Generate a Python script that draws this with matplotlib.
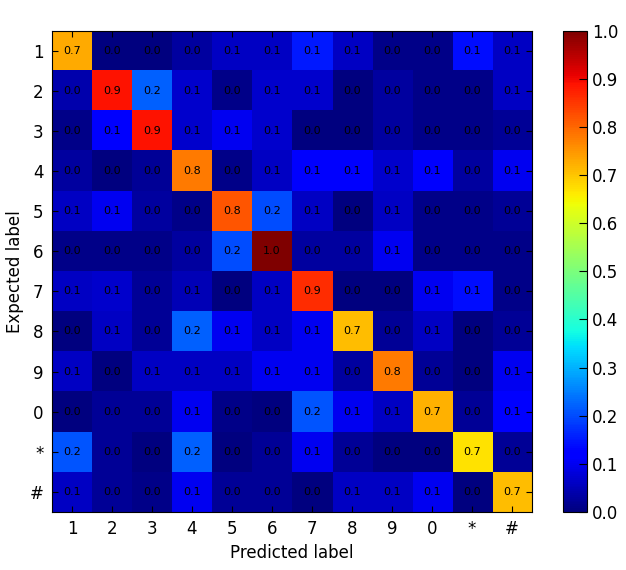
import numpy as np
import matplotlib
matplotlib.use("Agg")
import matplotlib.pyplot as plt

labels = ["1", "2", "3", "4", "5", "6", "7", "8", "9", "0", "*", "#"]

# rows = expected label, columns = predicted label
row_1 = [0.73, 0.00, 0.00, 0.03, 0.06, 0.06, 0.15, 0.06, 0.01, 0.01, 0.14, 0.06]
row_2 = [0.04, 0.89, 0.22, 0.07, 0.01, 0.07, 0.07, 0.00, 0.03, 0.01, 0.01, 0.06]
row_3 = [0.01, 0.11, 0.89, 0.07, 0.10, 0.07, 0.00, 0.00, 0.03, 0.01, 0.01, 0.02]
row_4 = [0.03, 0.00, 0.02, 0.78, 0.01, 0.06, 0.11, 0.11, 0.07, 0.11, 0.03, 0.10]
row_5 = [0.06, 0.10, 0.03, 0.01, 0.82, 0.20, 0.06, 0.00, 0.06, 0.01, 0.01, 0.02]
row_6 = [0.01, 0.01, 0.01, 0.03, 0.20, 1.00, 0.03, 0.03, 0.10, 0.01, 0.01, 0.01]
row_7 = [0.06, 0.07, 0.02, 0.05, 0.00, 0.06, 0.86, 0.00, 0.00, 0.10, 0.14, 0.01]
row_8 = [0.00, 0.06, 0.02, 0.22, 0.10, 0.06, 0.10, 0.71, 0.02, 0.06, 0.00, 0.02]
row_9 = [0.06, 0.00, 0.06, 0.06, 0.06, 0.10, 0.10, 0.03, 0.78, 0.02, 0.00, 0.10]
row_0 = [0.00, 0.02, 0.02, 0.10, 0.01, 0.00, 0.21, 0.10, 0.06, 0.72, 0.02, 0.12]
row_star = [0.21, 0.02, 0.00, 0.22, 0.00, 0.02, 0.10, 0.02, 0.00, 0.00, 0.67, 0.02]
row_hash = [0.06, 0.02, 0.01, 0.10, 0.02, 0.02, 0.00, 0.06, 0.06, 0.10, 0.00, 0.71]

matrix = np.array([row_1, row_2, row_3, row_4, row_5, row_6,
                   row_7, row_8, row_9, row_0, row_star, row_hash])

fig = plt.figure(figsize=(6.26, 5.70), dpi=100)
ax = fig.add_axes([0.083, 0.102, 0.767, 0.844])
cax = fig.add_axes([0.8995, 0.102, 0.038, 0.844])

im = ax.imshow(matrix, cmap="jet", vmin=0, vmax=1, interpolation="nearest", aspect="auto")

for i in range(matrix.shape[0]):
    for j in range(matrix.shape[1]):
        ax.text(j, i, "%.1f" % matrix[i, j], ha="center", va="center", fontsize=8, color="black")

ax.set_xticks(range(len(labels)))
ax.set_yticks(range(len(labels)))
ax.set_xticklabels(labels)
ax.set_yticklabels(labels)
ax.tick_params(direction="in", top=True, right=True, length=4, labelsize=12, pad=6)
ax.set_xlabel("Predicted label", fontsize=12)
ax.set_ylabel("Expected label", fontsize=12)

cb = fig.colorbar(im, cax=cax)
cb.set_ticks(np.arange(0, 1.01, 0.1))
cb.ax.tick_params(direction="in", length=6, labelsize=12)

fig.savefig("out.png", dpi=100)
